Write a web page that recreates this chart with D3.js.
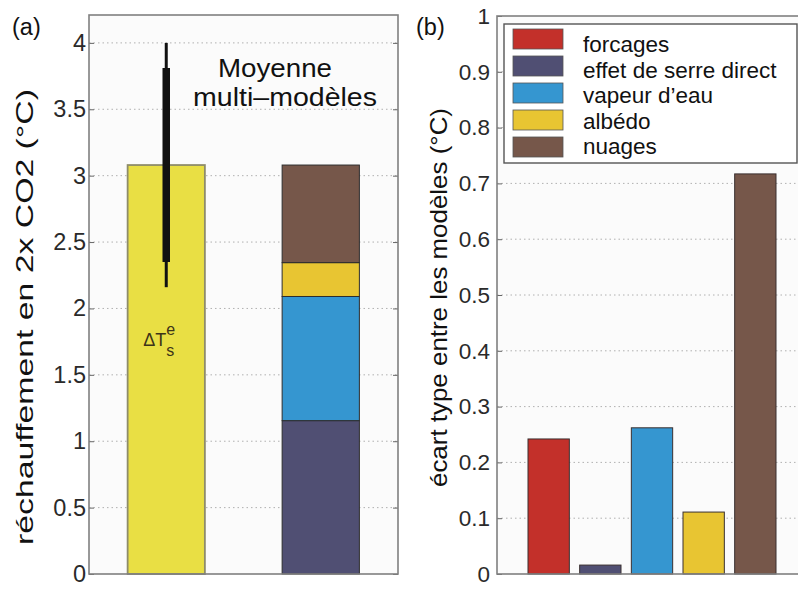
<!DOCTYPE html>
<html>
<head>
<meta charset="utf-8">
<script src="https://cdn.jsdelivr.net/npm/d3@7"></script>
<style>
  html, body { margin: 0; padding: 0; background: #ffffff; }
  svg { display: block; }
</style>
</head>
<body>
<svg id="chart" width="798" height="593"></svg>
<script>
// ---------------- data ----------------
// panel (a)
const meanWarming = 3.08;                 // multi-model mean ΔTs (°C)
const errThin = [2.16, 4.0];              // full range
const errThick = [2.35, 3.81];            // inner range
const stackNames = ["effet de serre direct", "vapeur d’eau", "albédo", "nuages"];
const stackValues = [1.155, 0.935, 0.255, 0.735];
const leftTickValues = [0, 0.5, 1, 1.5, 2, 2.5, 3, 3.5, 4];
const leftTickLabels = ["0", "0.5", "1", "1.5", "2", "2.5", "3", "3.5", "4"];

// panel (b)
const categories = ["forcages", "effet de serre direct", "vapeur d’eau", "albédo", "nuages"];
const spreadValues = [0.242, 0.016, 0.262, 0.111, 0.717];
const rightTickValues = [0, 0.1, 0.2, 0.3, 0.4, 0.5, 0.6, 0.7, 0.8, 0.9, 1];
const rightTickLabels = ["0", "0.1", "0.2", "0.3", "0.4", "0.5", "0.6", "0.7", "0.8", "0.9", "1"];

const colors = {
  "forcages": "#c3302a",
  "effet de serre direct": "#504f73",
  "vapeur d’eau": "#3596d0",
  "albédo": "#e8c532",
  "nuages": "#76574a"
};
const meanColor = "#e9df44";

// ---------------- drawing ----------------
const svg = d3.select("#chart");
const TXT = "'Liberation Sans', Arial, sans-serif";
const NUM = "'Liberation Sans', Arial, sans-serif";

// ===== panel (a) =====
const xL = d3.scaleLinear().domain([0.5, 2.5]).range([89, 398]);
const yL = d3.scaleLinear().domain([0, 4.21]).range([574, 15]);

const gA = svg.append("g");
gA.append("rect")
  .attr("x", xL(0.5)).attr("y", yL(4.21))
  .attr("width", xL(2.5) - xL(0.5)).attr("height", yL(0) - yL(4.21))
  .attr("fill", "#fbfbfb");

// grid
gA.append("g").selectAll("line")
  .data(leftTickValues.filter(d => d > 0))
  .join("line")
  .attr("x1", xL(0.5)).attr("x2", xL(2.5))
  .attr("y1", d => yL(d)).attr("y2", d => yL(d))
  .attr("stroke", "#b0b0b0").attr("stroke-width", 1)
  .attr("stroke-dasharray", "1.5,3");

// mean bar
gA.append("rect")
  .attr("x", xL(1 - 0.25)).attr("width", xL(1.25) - xL(0.75))
  .attr("y", yL(meanWarming)).attr("height", yL(0) - yL(meanWarming))
  .attr("fill", meanColor).attr("stroke", "#8e8c6a").attr("stroke-width", 1.8);

// stacked bar
const stackData = [];
let acc = 0;
stackNames.forEach((n, i) => { stackData.push({ name: n, y0: acc, y1: acc + stackValues[i] }); acc += stackValues[i]; });
gA.append("g").selectAll("rect")
  .data(stackData)
  .join("rect")
  .attr("x", xL(2 - 0.25)).attr("width", xL(2.25) - xL(1.75))
  .attr("y", d => yL(d.y1)).attr("height", d => yL(d.y0) - yL(d.y1))
  .attr("fill", d => colors[d.name]).attr("stroke", "#2d2d2d").attr("stroke-width", 1);

// error bars
gA.append("line")
  .attr("x1", xL(1)).attr("x2", xL(1))
  .attr("y1", yL(errThin[0])).attr("y2", yL(errThin[1]))
  .attr("stroke", "#111").attr("stroke-width", 3);
gA.append("line")
  .attr("x1", xL(1)).attr("x2", xL(1))
  .attr("y1", yL(errThick[0])).attr("y2", yL(errThick[1]))
  .attr("stroke", "#111").attr("stroke-width", 7.5);

// ΔTs label
const dT = gA.append("text")
  .attr("x", xL(1) - 23).attr("y", 346)
  .attr("font-family", TXT).attr("font-size", 18).attr("fill", "#3d3418");
dT.append("tspan").text("ΔT");
dT.append("tspan").attr("dy", -11).attr("font-size", 16).text("e");
dT.append("tspan").attr("dx", -9).attr("dy", 21).attr("font-size", 16).text("s");

// "Moyenne multi–modèles"
gA.append("text").attr("x", 275).attr("y", 77)
  .attr("text-anchor", "middle").attr("font-family", TXT).attr("font-size", 25).attr("fill", "#111")
  .attr("textLength", 114).attr("lengthAdjust", "spacingAndGlyphs")
  .text("Moyenne");
gA.append("text").attr("x", 285).attr("y", 105.5)
  .attr("text-anchor", "middle").attr("font-family", TXT).attr("font-size", 25).attr("fill", "#111")
  .attr("textLength", 184).attr("lengthAdjust", "spacingAndGlyphs")
  .text("multi–modèles");

// axis ticks + labels
const axL = d3.axisLeft(yL).tickValues(leftTickValues)
  .tickFormat((d, i) => leftTickLabels[i]).tickSize(-5).tickPadding(3);
const gAxL = gA.append("g").attr("transform", `translate(${xL(0.5)},0)`).call(axL);
gAxL.select(".domain").remove();
gAxL.selectAll("line").attr("stroke", "#666");
gAxL.selectAll("text").attr("font-family", NUM).attr("font-size", 23.5).attr("fill", "#2a2a2a");

const axLr = d3.axisRight(yL).tickValues(leftTickValues).tickFormat("").tickSize(-5);
const gAxLr = gA.append("g").attr("transform", `translate(${xL(2.5)},0)`).call(axLr);
gAxLr.select(".domain").remove();
gAxLr.selectAll("line").attr("stroke", "#666");

// frame
gA.append("rect")
  .attr("x", xL(0.5)).attr("y", yL(4.21))
  .attr("width", xL(2.5) - xL(0.5)).attr("height", yL(0) - yL(4.21))
  .attr("fill", "none").attr("stroke", "#808080").attr("stroke-width", 1.6);

// y title
gA.append("text")
  .attr("transform", `translate(33,317) rotate(-90)`)
  .attr("text-anchor", "middle").attr("font-family", TXT).attr("font-size", 24).attr("fill", "#111")
  .attr("textLength", 456).attr("lengthAdjust", "spacingAndGlyphs")
  .text("réchauffement en 2x CO2 (°C)");

// panel tag
gA.append("text").attr("x", 12).attr("y", 35)
  .attr("font-family", TXT).attr("font-size", 23.5).attr("fill", "#111").text("(a)");

// ===== panel (b) =====
const xR = d3.scaleLinear().domain([0, 6]).range([497, 807]);
const yR = d3.scaleLinear().domain([0, 1]).range([574, 16]);

const gB = svg.append("g");
gB.append("rect")
  .attr("x", xR(0)).attr("y", yR(1))
  .attr("width", xR(6) - xR(0)).attr("height", yR(0) - yR(1))
  .attr("fill", "#fbfbfb");

gB.append("g").selectAll("line")
  .data(rightTickValues.filter(d => d > 0 && d < 1))
  .join("line")
  .attr("x1", xR(0)).attr("x2", xR(6))
  .attr("y1", d => yR(d)).attr("y2", d => yR(d))
  .attr("stroke", "#b0b0b0").attr("stroke-width", 1)
  .attr("stroke-dasharray", "1.5,3");

gB.append("g").selectAll("rect")
  .data(categories.map((c, i) => ({ c, v: spreadValues[i], i })))
  .join("rect")
  .attr("x", d => xR(d.i + 1 - 0.4)).attr("width", xR(0.8) - xR(0))
  .attr("y", d => yR(d.v)).attr("height", d => yR(0) - yR(d.v))
  .attr("fill", d => colors[d.c]).attr("stroke", "#3a3030").attr("stroke-width", 1);

const axR = d3.axisLeft(yR).tickValues(rightTickValues)
  .tickFormat((d, i) => rightTickLabels[i]).tickSize(-5).tickPadding(7);
const gAxR = gB.append("g").attr("transform", `translate(${xR(0)},0)`).call(axR);
gAxR.select(".domain").remove();
gAxR.selectAll("line").attr("stroke", "#666");
gAxR.selectAll("text").attr("font-family", NUM).attr("font-size", 22.5).attr("fill", "#2a2a2a");

gB.append("rect")
  .attr("x", xR(0)).attr("y", yR(1))
  .attr("width", xR(6) - xR(0)).attr("height", yR(0) - yR(1))
  .attr("fill", "none").attr("stroke", "#808080").attr("stroke-width", 1.6);

// legend
const lg = gB.append("g");
lg.append("rect").attr("x", 504).attr("y", 24).attr("width", 293).attr("height", 139)
  .attr("fill", "#ffffff").attr("stroke", "#555").attr("stroke-width", 1.4);
lg.selectAll("rect.sw").data(categories).join("rect").attr("class", "sw")
  .attr("x", 513).attr("y", (d, i) => 29 + i * 27).attr("width", 50).attr("height", 20)
  .attr("fill", d => colors[d]).attr("stroke", "#555").attr("stroke-width", 0.8);
lg.selectAll("text").data(categories).join("text")
  .attr("x", 583).attr("y", (d, i) => 52 + i * 25.6)
  .attr("font-family", TXT).attr("font-size", 22.5).attr("fill", "#111")
  .text(d => d);

// y title
gB.append("text")
  .attr("transform", `translate(447,297.5) rotate(-90)`)
  .attr("text-anchor", "middle").attr("font-family", TXT).attr("font-size", 24).attr("fill", "#111")
  .attr("textLength", 379).attr("lengthAdjust", "spacingAndGlyphs")
  .text("écart type entre les modèles (°C)");

gB.append("text").attr("x", 416).attr("y", 35)
  .attr("font-family", TXT).attr("font-size", 23.5).attr("fill", "#111").text("(b)");
</script>
</body>
</html>
